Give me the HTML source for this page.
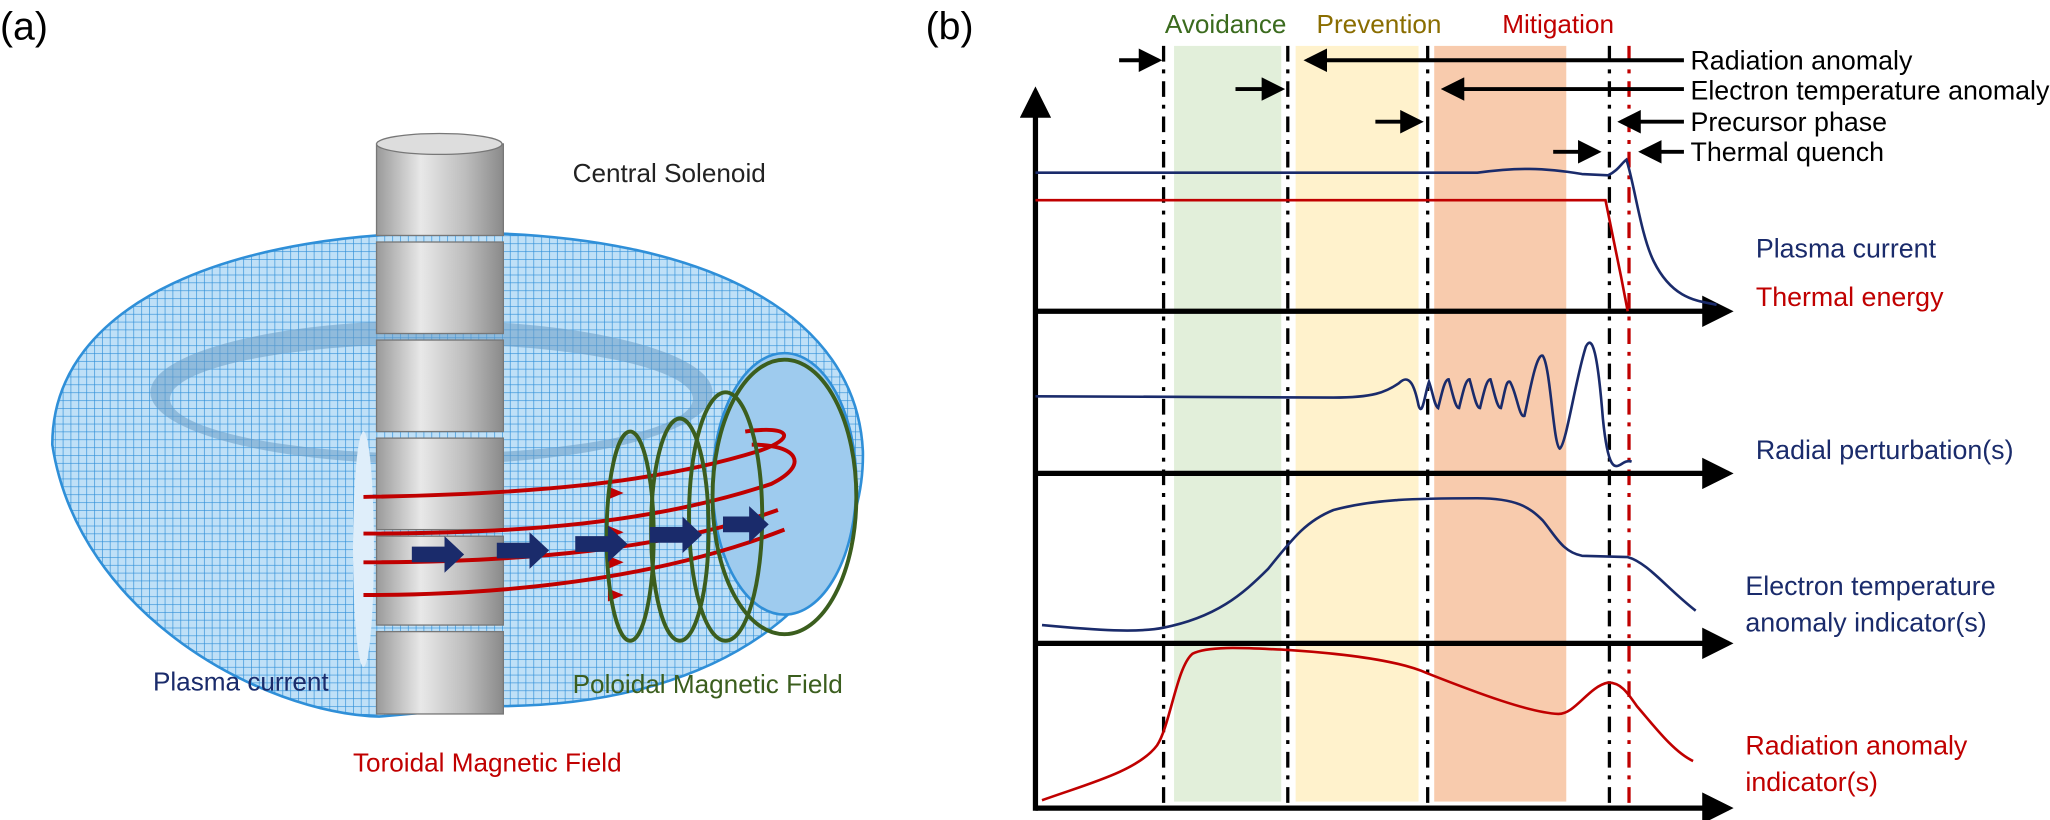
<!DOCTYPE html>
<html><head><meta charset="utf-8"><style>
body{margin:0;background:#fff;}
svg{display:block;font-family:"Liberation Sans",sans-serif;}
</style></head><body>
<svg width="2050" height="820" viewBox="0 0 1568 627" xmlns="http://www.w3.org/2000/svg">
<defs>
<pattern id="mesh" width="6" height="6" patternUnits="userSpaceOnUse">
<rect width="6" height="6" fill="#bfe0f7"/>
<path d="M0 0H6M0 0V6" stroke="#2f8fd8" stroke-width="1"/>
</pattern>
<linearGradient id="cyl" x1="0" x2="1">
<stop offset="0" stop-color="#9a9a9a"/><stop offset="0.35" stop-color="#e8e8e8"/><stop offset="0.7" stop-color="#bdbdbd"/><stop offset="1" stop-color="#8a8a8a"/>
</linearGradient>
<marker id="ah" markerWidth="6" markerHeight="6" refX="5" refY="3" orient="auto"><path d="M0 0L6 3L0 6z" fill="#000"/></marker>
</defs>
<text x="0" y="30" font-size="30">(a)</text>
<text x="708" y="30" font-size="30">(b)</text>
<!-- torus -->
<path d="M40 340 C40 230 180 175 360 178 C540 180 655 240 660 345 C662 450 560 540 380 540 L290 548 C200 545 60 470 40 340Z" fill="url(#mesh)" stroke="#2f8fd8" stroke-width="2"/>
<ellipse cx="330" cy="300" rx="215" ry="55" fill="#6a9cc6" opacity="0.55"/>
<ellipse cx="330" cy="305" rx="200" ry="42" fill="url(#mesh)"/>
<ellipse cx="600" cy="370" rx="55" ry="100" fill="#9ecbee" stroke="#2f8fd8" stroke-width="2"/>
<ellipse cx="278" cy="420" rx="8" ry="90" fill="#dfeefa"/>
<!-- solenoid -->
<g stroke="#777" stroke-width="1">
<rect x="288" y="110" width="97" height="70" fill="url(#cyl)"/>
<rect x="288" y="185" width="97" height="70" fill="url(#cyl)"/>
<rect x="288" y="260" width="97" height="70" fill="url(#cyl)"/>
<rect x="288" y="335" width="97" height="70" fill="url(#cyl)"/>
<rect x="288" y="410" width="97" height="68" fill="url(#cyl)"/>
<rect x="288" y="483" width="97" height="63" fill="url(#cyl)"/>
<ellipse cx="336" cy="110" rx="48" ry="8" fill="#ddd"/>
</g>
<!-- toroidal lines -->
<g stroke="#c00000" stroke-width="3" fill="none">
<path d="M278 380 C400 378 500 370 580 345 C610 335 605 325 570 330"/>
<path d="M278 408 C400 408 500 400 590 370 C620 355 610 340 575 340"/>
<path d="M278 430 C400 430 510 420 595 390"/>
<path d="M278 455 C400 455 510 440 600 405"/>
</g>
<g fill="#c00000"><path d="M465 372l12 5-12 5z"/><path d="M465 402l12 5-12 5z"/><path d="M465 425l12 5-12 5z"/><path d="M465 450l12 5-12 5z"/></g>
<!-- poloidal -->
<g stroke="#3b5e1e" stroke-width="3" fill="none">
<ellipse cx="482" cy="410" rx="18" ry="80"/><ellipse cx="520" cy="405" rx="22" ry="85"/>
<ellipse cx="555" cy="395" rx="28" ry="95"/><ellipse cx="600" cy="380" rx="55" ry="105"/>
</g>
<!-- current arrows -->
<g fill="#1a2b6b"><path d="M315 418h25v-8l15 14-15 14v-8h-25z"/><path d="M380 415h25v-8l15 14-15 14v-8h-25z"/><path d="M440 410h25v-8l15 14-15 14v-8h-25z"/><path d="M497 403h25v-8l15 14-15 14v-8h-25z"/><path d="M553 395h20v-8l15 14-15 14v-8h-20z"/></g>
<text x="438" y="139" font-size="20" fill="#222">Central Solenoid</text>
<text x="117" y="528" font-size="20" fill="#1a2b6b">Plasma current</text>
<text x="438" y="530" font-size="20" fill="#3b5e1e">Poloidal Magnetic Field</text>
<text x="270" y="590" font-size="20" fill="#c00000">Toroidal Magnetic Field</text>

<!-- panel b bands -->
<rect x="898" y="35" width="82" height="578" fill="#e2efda"/>
<rect x="991" y="35" width="94" height="578" fill="#fff2cc"/>
<rect x="1097" y="35" width="101" height="578" fill="#f8cbad"/>
<text x="891" y="25" font-size="20" fill="#3b6b1e">Avoidance</text>
<text x="1007" y="25" font-size="20" fill="#8a6d00">Prevention</text>
<text x="1149" y="25" font-size="20" fill="#c00000">Mitigation</text>
<g stroke-width="2.5" stroke-dasharray="12,6,3,6" fill="none">
<line x1="890" y1="35" x2="890" y2="615" stroke="#000"/>
<line x1="985" y1="35" x2="985" y2="615" stroke="#000"/>
<line x1="1092" y1="35" x2="1092" y2="615" stroke="#000"/>
<line x1="1231" y1="35" x2="1231" y2="615" stroke="#000"/>
<line x1="1246" y1="35" x2="1246" y2="615" stroke="#c00000"/>
</g>
<g stroke="#000" stroke-width="3" marker-end="url(#ah)">
<line x1="856" y1="46" x2="886" y2="46"/><line x1="1288" y1="46" x2="1000" y2="46"/>
<line x1="945" y1="68" x2="980" y2="68"/><line x1="1288" y1="68" x2="1105" y2="68"/>
<line x1="1052" y1="93" x2="1086" y2="93"/><line x1="1288" y1="93" x2="1240" y2="93"/>
<line x1="1188" y1="116" x2="1222" y2="116"/><line x1="1288" y1="116" x2="1256" y2="116"/>
</g>
<g font-size="20.5" fill="#000">
<text x="1293" y="53">Radiation anomaly</text><text x="1293" y="76">Electron temperature anomaly</text>
<text x="1293" y="100">Precursor phase</text><text x="1293" y="123">Thermal quench</text>
</g>
<!-- axes -->
<g stroke="#000" stroke-width="4" marker-end="url(#ah)">
<line x1="792" y1="620" x2="792" y2="70"/>
<line x1="792" y1="238" x2="1322" y2="238"/>
<line x1="792" y1="362" x2="1322" y2="362"/>
<line x1="792" y1="492" x2="1322" y2="492"/>
<line x1="792" y1="618" x2="1322" y2="618"/>
</g>
<g fill="none" stroke-width="2">
<path d="M792 132 L1130 132 C1160 128 1180 128 1210 133 L1230 134 C1238 130 1240 125 1244 122 C1250 140 1255 180 1265 200 C1280 230 1300 230 1313 233" stroke="#1a2b6b"/>
<path d="M792 153 L1228 153 L1240 212 L1245 238" stroke="#c00000"/>
<path d="M792 303 L1020 304 C1050 304 1060 300 1070 293 C1078 285 1082 295 1085 310 C1088 320 1090 300 1093 292 C1096 300 1097 310 1100 312 C1103 300 1105 290 1108 290 C1111 300 1113 312 1116 312 C1119 300 1121 290 1124 290 C1127 300 1129 312 1132 312 C1135 300 1137 290 1140 290 C1143 300 1145 312 1148 312 C1151 300 1152 290 1155 292 C1160 300 1162 320 1166 318 C1170 300 1175 270 1180 272 C1186 280 1188 340 1193 343 C1198 340 1205 290 1213 265 C1218 255 1222 270 1226 320 C1230 360 1235 358 1240 355 C1243 353 1245 352 1248 353" stroke="#1a2b6b"/>
<path d="M797 478 C840 482 870 484 890 480 C930 472 950 455 970 435 C990 410 1000 398 1020 390 C1050 382 1080 381 1130 381 C1160 381 1170 388 1180 398 C1190 410 1195 422 1210 425 L1245 426 C1260 430 1275 450 1297 467" stroke="#1a2b6b"/>
<path d="M797 612 C830 600 870 590 885 570 C895 555 900 510 912 500 C925 493 960 496 985 497 C1030 500 1070 505 1092 515 C1130 530 1170 545 1192 546 C1205 546 1215 525 1230 522 C1240 522 1245 530 1252 540 C1265 555 1280 575 1295 582" stroke="#c00000"/>
</g>
<g font-size="20.5">
<text x="1343" y="197" fill="#1a2b6b">Plasma current</text>
<text x="1343" y="234" fill="#c00000">Thermal energy</text>
<text x="1343" y="351" fill="#1a2b6b">Radial perturbation(s)</text>
<text x="1335" y="455" fill="#1a2b6b">Electron temperature</text>
<text x="1335" y="483" fill="#1a2b6b">anomaly indicator(s)</text>
<text x="1335" y="577" fill="#c00000">Radiation anomaly</text>
<text x="1335" y="605" fill="#c00000">indicator(s)</text>
</g>
</svg>
</body></html>
